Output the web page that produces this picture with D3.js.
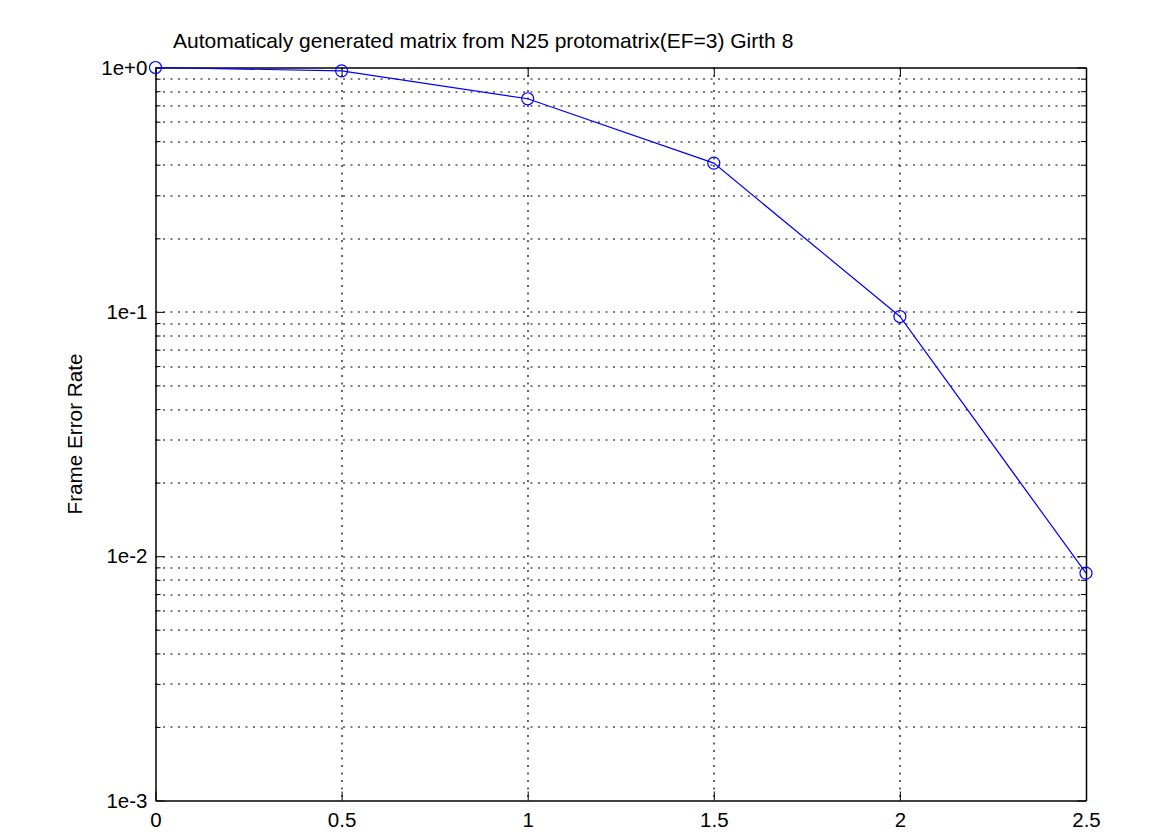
<!DOCTYPE html>
<html>
<head>
<meta charset="utf-8">
<script src="https://cdn.jsdelivr.net/npm/d3@7"></script>
<style>
  body { margin: 0; background: #fff; }
  svg text { font-family: "Liberation Sans", Arial, sans-serif; }
</style>
</head>
<body>
<div id="chart"></div>
<script>
const snr = [0, 0.5, 1, 1.5, 2, 2.5];
const fer = [1.0, 0.969, 0.745, 0.406, 0.0957, 0.00852];
const xTicks = [0, 0.5, 1, 1.5, 2, 2.5];
const xTickLabels = ["0", "0.5", "1", "1.5", "2", "2.5"];
const yTicks = [1e-3, 1e-2, 1e-1, 1];
const yTickLabels = ["1e-3", "1e-2", "1e-1", "1e+0"];
const titleText = "Automaticaly generated matrix from N25 protomatrix(EF=3) Girth 8";
const yLabelText = "Frame Error Rate";

const W = 1175, H = 835;
const margin = { top: 67.5, right: 89, bottom: 34.5, left: 155.5 };
const width = W - margin.left - margin.right;
const height = H - margin.top - margin.bottom;

const svg = d3.select("#chart").append("svg")
  .attr("width", W)
  .attr("height", H);

const g = svg.append("g")
  .attr("transform", `translate(${margin.left},${margin.top})`);

const x = d3.scaleLinear().domain([0, 2.5]).range([0, width]);
const y = d3.scaleLog().domain([1e-3, 1]).range([height, 0]);

// minor values 2..9 per decade
const minor = [];
for (let e = -3; e < 0; e++) {
  for (let m = 2; m <= 9; m++) minor.push(m * Math.pow(10, e));
}

// grid
const grid = g.append("g").attr("stroke", "#000").attr("stroke-width", 1.2)
  .attr("stroke-dasharray", "2,5.5").attr("fill", "none");
grid.selectAll("line.h")
  .data(minor.concat(yTicks.slice(1, 3)))
  .join("line")
  .attr("x1", 0).attr("x2", width)
  .attr("y1", d => Math.round(y(d)) + 0.5).attr("y2", d => Math.round(y(d)) + 0.5);
grid.selectAll("line.v")
  .data(xTicks.slice(1, -1))
  .join("line")
  .attr("class", "v")
  .attr("y1", 0).attr("y2", height)
  .attr("x1", d => Math.round(x(d)) + 0.5).attr("x2", d => Math.round(x(d)) + 0.5);

// axes with inner ticks on all four sides
const fmtX = (d, i) => xTickLabels[i];
const fmtY = (d, i) => yTickLabels[i];

const axB = g.append("g").attr("transform", `translate(0,${height})`)
  .call(d3.axisBottom(x).tickValues(xTicks).tickFormat(fmtX).tickSizeInner(-9).tickSizeOuter(0).tickPadding(12));
const axT = g.append("g")
  .call(d3.axisTop(x).tickValues(xTicks).tickFormat("").tickSizeInner(-9).tickSizeOuter(0));
const axL = g.append("g")
  .call(d3.axisLeft(y).tickValues(yTicks).tickFormat(fmtY).tickSizeInner(-9).tickSizeOuter(0).tickPadding(8));
const axR = g.append("g").attr("transform", `translate(${width},0)`)
  .call(d3.axisRight(y).tickValues(yTicks).tickFormat("").tickSizeInner(-9).tickSizeOuter(0));
g.append("g")
  .call(d3.axisLeft(y).tickValues(minor).tickFormat("").tickSizeInner(-5).tickSizeOuter(0))
  .select(".domain").remove();
g.append("g").attr("transform", `translate(${width},0)`)
  .call(d3.axisRight(y).tickValues(minor).tickFormat("").tickSizeInner(-5).tickSizeOuter(0))
  .select(".domain").remove();

g.selectAll(".tick line").attr("stroke", "#000");
g.selectAll(".domain").attr("stroke", "#000").attr("stroke-width", 1.5);
g.selectAll(".tick text").attr("font-size", 20.5).attr("fill", "#000");
axB.selectAll(".tick text").attr("dy", "0.71em");
axL.selectAll(".tick text").attr("dy", "0.32em");

// data line
const pts = snr.map((s, i) => ({ s, f: fer[i] }));
g.append("path")
  .datum(pts)
  .attr("fill", "none")
  .attr("stroke", "#0000ff")
  .attr("stroke-width", 1.2)
  .attr("d", d3.line().x(d => x(d.s)).y(d => y(d.f)));

g.selectAll("circle.pt")
  .data(pts)
  .join("circle")
  .attr("class", "pt")
  .attr("cx", d => x(d.s))
  .attr("cy", d => y(d.f))
  .attr("r", 6)
  .attr("fill", "none")
  .attr("stroke", "#0000ff")
  .attr("stroke-width", 1.2);

// title and label
svg.append("text")
  .attr("x", 173).attr("y", 48)
  .attr("font-size", 21)
  .attr("fill", "#000")
  .text(titleText);

svg.append("text")
  .attr("transform", `translate(82,${margin.top + height / 2}) rotate(-90)`)
  .attr("text-anchor", "middle")
  .attr("font-size", 20.7)
  .attr("fill", "#000")
  .text(yLabelText);
</script>
</body>
</html>
